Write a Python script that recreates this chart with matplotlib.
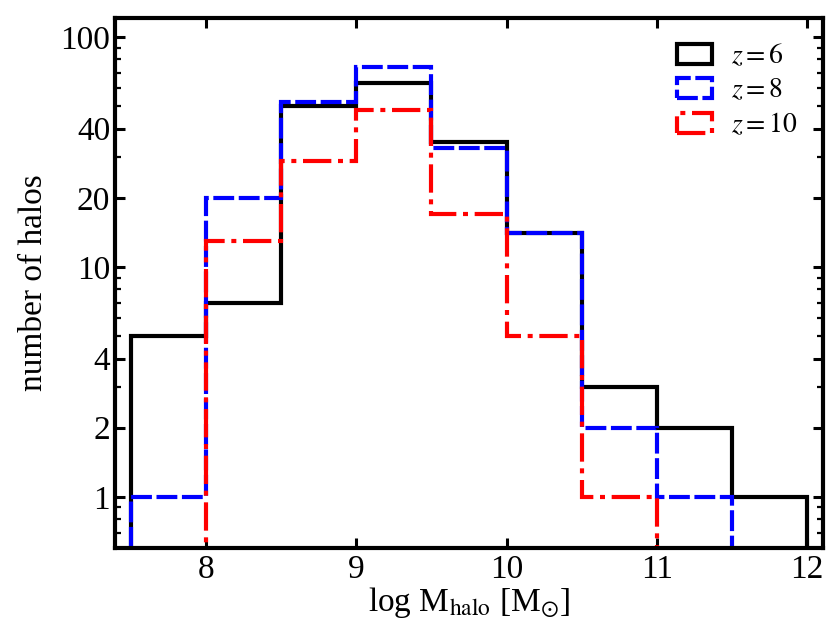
import numpy as np
import matplotlib
matplotlib.use("Agg")
import matplotlib.pyplot as plt
from matplotlib.ticker import FixedLocator, LogLocator, NullFormatter, NullLocator

plt.rcParams['font.family'] = ['Liberation Serif', 'DejaVu Serif']
plt.rcParams['mathtext.fontset'] = 'stix'

edges = [7.5, 8.0, 8.5, 9.0, 9.5, 10.0, 10.5, 11.0, 11.5, 12.0]
counts_z6 = [5, 7, 50, 63, 35, 14, 3, 2, 1]
counts_z8 = [1, 20, 52, 74, 33, 14, 2, 1, 0]
counts_z10 = [0, 13, 29, 48, 17, 5, 1, 0, 0]
labels = [r'$z = 6$', r'$z = 8$', r'$z = 10$']
yticks = [1, 2, 4, 10, 20, 40, 100]
xticks = [8, 9, 10, 11, 12]

fig = plt.figure(figsize=(8.3, 6.23), dpi=100)
ax = fig.add_axes([0.1386, 0.1204, 0.853, 0.8507])

centers = [(a + b) / 2 for a, b in zip(edges[:-1], edges[1:])]
lw = 3.0
ax.hist(centers, bins=edges, weights=counts_z6, histtype='step', color='black',
        lw=lw, label=labels[0], log=True)
ax.hist(centers, bins=edges, weights=counts_z8, histtype='step', color='blue',
        lw=lw, ls=(0, (5, 1.1)), label=labels[1], log=True)
ax.hist(centers, bins=edges, weights=counts_z10, histtype='step', color='red',
        lw=lw, ls=(0, (6.8, 1.6, 1.2, 1.6)), label=labels[2], log=True)

ax.set_yscale('log')
ax.set_xlim(7.395, 12.106)
ax.set_ylim(0.6, 121)

ax.yaxis.set_major_locator(FixedLocator(yticks))
ax.set_yticklabels([str(t) for t in yticks])
ax.yaxis.set_minor_locator(LogLocator(base=10, subs=np.arange(2, 10)))
ax.yaxis.set_minor_formatter(NullFormatter())
ax.set_xticks(xticks)
ax.set_xticklabels([str(t) for t in xticks])
ax.xaxis.set_minor_locator(NullLocator())

ax.tick_params(which='both', direction='in', top=True, right=True, labelsize=24)
ax.tick_params(which='major', length=7.5, width=2.2)
ax.tick_params(which='minor', length=4.5, width=1.6)
ax.tick_params(axis='x', pad=5)
ax.tick_params(axis='y', pad=3.5)
for s in ax.spines.values():
    s.set_linewidth(3.0)

ax.set_xlabel(r'log M$_{\rm halo}$ [M$_{\odot}$]', fontsize=24, labelpad=0)
ax.set_ylabel('number of halos', fontsize=24, labelpad=8)

ax.legend(loc='upper right', frameon=False, fontsize=20, handlelength=1.26,
          handleheight=0.72, labelspacing=0.3, handletextpad=0.7,
          borderaxespad=0.5)

fig.savefig('out.png', dpi=100)
